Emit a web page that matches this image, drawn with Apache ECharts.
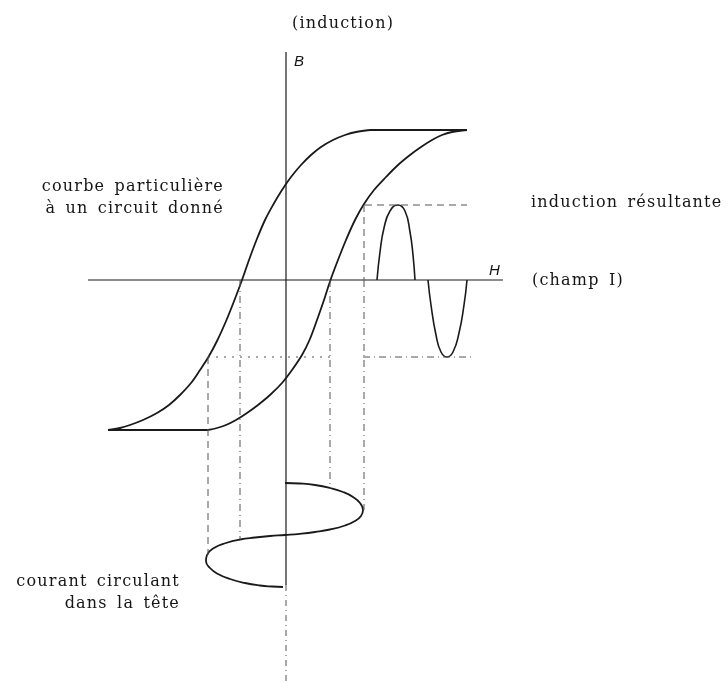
<!DOCTYPE html>
<html><head><meta charset="utf-8">
<script src="https://cdn.jsdelivr.net/npm/echarts@6/dist/echarts.min.js"></script>
<style>html,body{margin:0;padding:0;background:#fff}#c{width:728px;height:682px}</style>
</head><body><div id="c"></div>
<script>
// Values: [H, B] in arbitrary units (below the loop, B axis = time for the head current)
const hAxisLine = [[-19.8, 0], [21.7, 0]];
const bAxisSolid = [[0, 22.8], [0, -30.5]];
const bAxisDashed = [[0, -30.5], [0, -40.2]];
// hysteresis loop
const ascendingBranch = [[-7.8,-15],[-6.9,-14.8],[-6.0,-14.5],[-5.0,-14],[-3.9,-13.3],[-2.8,-12.5],[-1.6,-11.5],[-0.4,-10.3],[0.6,-9],[1.6,-7.5],[2.35,-6],[3.1,-4],[3.8,-2],[4.45,0],[5.2,2],[6.0,4],[6.9,6],[7.8,7.6],[8.8,9],[10.0,10.3],[11.2,11.5],[12.4,12.5],[13.5,13.3],[14.6,14],[15.6,14.5],[16.6,14.8],[18.1,15]];
const descendingBranch = [[8.4,15],[7.0,14.8],[5.9,14.5],[4.7,14],[3.5,13.3],[2.5,12.5],[1.5,11.5],[0.5,10.3],[-0.4,9],[-1.3,7.5],[-2.1,6],[-2.95,4],[-3.7,2],[-4.4,0],[-5.15,-2],[-5.95,-4],[-6.85,-6],[-7.7,-7.6],[-8.6,-9],[-9.5,-10.3],[-10.6,-11.5],[-11.7,-12.5],[-12.9,-13.3],[-14.3,-14],[-15.6,-14.5],[-16.6,-14.8],[-17.8,-15]];
const topSaturation = [[8.4,15],[18.1,15]];
const bottomSaturation = [[-17.8,-15],[-7.8,-15]];
// resulting induction (time along H)
const inductionPositive = [[9.1,0],[9.4,2.8],[9.8,5.2],[10.4,6.9],[11.2,7.5],[11.9,6.9],[12.4,4.8],[12.7,2.5],[12.9,0]];
const inductionNegative = [[14.2,0],[14.5,-2.5],[15,-5.5],[15.5,-7.2],[16.1,-7.7],[16.7,-7.2],[17.3,-5.3],[17.8,-2.5],[18.1,0]];
// head current (time downward)
const currentWave = [[-0.1,-20.3],[1.4,-20.35],[2.9,-20.5],[4.4,-20.8],[5.7,-21.2],[6.7,-21.7],[7.4,-22.3],[7.7,-23],[7.5,-23.6],[6.9,-24.1],[5.9,-24.55],[4.4,-24.95],[2.9,-25.2],[1.4,-25.38],[-0.1,-25.5],[-1.6,-25.6],[-3.1,-25.75],[-4.6,-25.95],[-6.0,-26.3],[-7.2,-26.8],[-7.9,-27.5],[-8.0,-28.1],[-7.6,-28.8],[-6.8,-29.4],[-5.6,-29.9],[-4.1,-30.3],[-2.6,-30.55],[-1.4,-30.65],[-0.3,-30.7]];
// projection guides
const guideMaxLevel = [[7.9,7.5],[18.1,7.5]];
const guideMinLevelLeft = [[-7.8,-7.7],[4.4,-7.7]];
const guideMinLevelRight = [[7.7,-7.7],[18.7,-7.7]];
const guideMaxCurrentUpper = [[7.8,7.5],[7.8,0]];
const guideMaxCurrentLower = [[7.8,0],[7.8,-23]];
const guideCoerciveRight = [[4.4,0],[4.4,-20.8]];
const guideCoerciveLeft = [[-4.6,0],[-4.6,-25.95]];
const guideMinCurrent = [[-7.8,-7.7],[-7.8,-27.5]];

// looser letter spacing, like the original typesetting
(function(){
  const proto = CanvasRenderingContext2D.prototype;
  const origFill = proto.fillText;
  proto.fillText = function(t, x, y, m){
    try { this.letterSpacing = '1.2px'; this.wordSpacing = '3px'; } catch(e) {}
    return m === undefined ? origFill.call(this, t, x, y) : origFill.call(this, t, x, y, m);
  };
})();

const ink = '#1a1a1a';
function solid(data, w, smooth){
  return {type:'line', data, symbol:'none', smooth: smooth||false, silent:true,
    lineStyle:{color:ink, width:w}};
}
function dashed(data, pattern, w){
  return {type:'line', data, symbol:'none', silent:true,
    lineStyle:{color:'#555', width:w||1, type:pattern}};
}
const chart = echarts.init(document.getElementById('c'));
const serif = '"DejaVu Serif", serif';
const txt = '#151515';
const f = '16px ' + serif;
chart.setOption({
  animation:false,
  grid:{left:0,right:0,top:0,bottom:0},
  xAxis:{type:'value',min:-28.6,max:44.2,show:false},
  yAxis:{type:'value',min:-40.2,max:28.0,show:false},
  series:[
    solid(hAxisLine,1.2),
    solid(bAxisSolid,1.2),
    dashed(bAxisDashed,[6,4,1,4],1),
    solid(ascendingBranch,1.8,0.35),
    solid(descendingBranch,1.8,0.35),
    solid(topSaturation,1.8),
    solid(bottomSaturation,1.8),
    solid(inductionPositive,1.6,0.5),
    solid(inductionNegative,1.6,0.5),
    solid(currentWave,1.8,0.5),
    dashed(guideMaxLevel,[7,5]),
    dashed(guideMinLevelLeft,[2,6]),
    dashed(guideMinLevelRight,[7,4,1,4]),
    dashed(guideMaxCurrentUpper,[7,5]),
    dashed(guideMaxCurrentLower,[7,4,1,4]),
    dashed(guideCoerciveRight,[7,4,1,4]),
    dashed(guideCoerciveLeft,[7,4,1,4]),
    dashed(guideMinCurrent,[7,5])
  ],
  graphic:[
    {type:'text',x:292,y:24,style:{text:'(induction)',font:f,fill:txt,align:'left',verticalAlign:'middle'}},
    {type:'text',x:294,y:62,style:{text:'B',font:'italic 15px "Liberation Sans", sans-serif',fill:txt,verticalAlign:'middle'}},
    {type:'text',x:489,y:271,style:{text:'H',font:'italic 15px "Liberation Sans", sans-serif',fill:txt,verticalAlign:'middle'}},
    {type:'text',x:532,y:281,style:{text:'(champ I)',font:f,fill:txt,verticalAlign:'middle'}},
    {type:'text',x:531,y:203,style:{text:'induction résultante',font:f,fill:txt,verticalAlign:'middle'}},
    {type:'text',x:224,y:187,style:{text:'courbe particulière',font:f,fill:txt,align:'right',verticalAlign:'middle'}},
    {type:'text',x:224,y:209,style:{text:'à un circuit donné',font:f,fill:txt,align:'right',verticalAlign:'middle'}},
    {type:'text',x:180,y:582,style:{text:'courant circulant',font:f,fill:txt,align:'right',verticalAlign:'middle'}},
    {type:'text',x:180,y:604,style:{text:'dans la tête',font:f,fill:txt,align:'right',verticalAlign:'middle'}}
  ]
});
</script></body></html>
